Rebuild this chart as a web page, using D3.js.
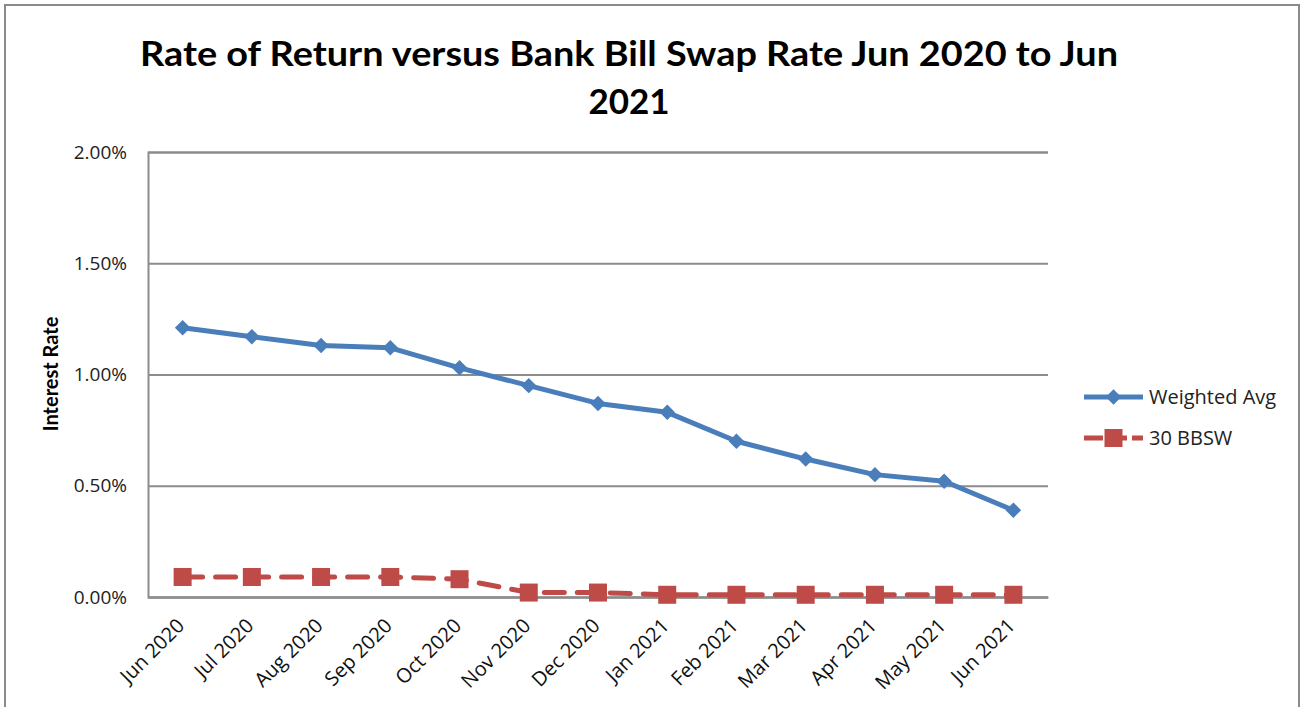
<!DOCTYPE html>
<html>
<head>
<meta charset="utf-8">
<script src="https://cdn.jsdelivr.net/npm/d3@7"></script>
<style>
  body { margin: 0; background: #fff; }
  svg { display: block; font-family: Lato, "Open Sans", sans-serif; }
</style>
</head>
<body>
<div id="chart"></div>
<script>
const months = ['Jun 2020', 'Jul 2020', 'Aug 2020', 'Sep 2020', 'Oct 2020', 'Nov 2020', 'Dec 2020',
    'Jan 2021', 'Feb 2021', 'Mar 2021', 'Apr 2021', 'May 2021', 'Jun 2021'];
const weightedAvg = [1.21, 1.17, 1.13, 1.12, 1.03, 0.95, 0.87, 0.83, 0.70, 0.62, 0.55, 0.52, 0.39];
const bbsw = [0.09, 0.09, 0.09, 0.09, 0.08, 0.02, 0.02, 0.01, 0.01, 0.01, 0.01, 0.01, 0.01];
const yTicks = [0, 0.5, 1.0, 1.5, 2.0];
const seriesNames = ['Weighted Avg', '30 BBSW'];

const W = 1303, H = 707;
const margin = { top: 152, left: 148, right: 255, bottom: 110 };
const width = W - margin.left - margin.right;
const height = H - margin.top - margin.bottom;

const blue = '#4a7ebb';
const red = '#be4b48';
const grid = '#8c8c8c';
const labelFont = '"Open Sans", sans-serif';

const svg = d3.select('#chart').append('svg').attr('width', W).attr('height', H);

// chart frame
svg.append('rect').attr('x', 5).attr('y', 5).attr('width', W - 9).attr('height', H)
    .attr('fill', 'none').attr('stroke', '#8a8a8a').attr('stroke-width', 2);

// title
const title = svg.append('text').attr('text-anchor', 'middle').attr('font-weight', 'bold')
    .attr('font-size', 35).attr('fill', '#000');
title.append('tspan').attr('x', 629).attr('y', 66)
    .attr('textLength', 978).attr('lengthAdjust', 'spacingAndGlyphs')
    .text('Rate of Return versus Bank Bill Swap Rate Jun 2020 to Jun');
title.append('tspan').attr('x', 629).attr('y', 114).text('2021');

const g = svg.append('g').attr('transform', `translate(${margin.left},${margin.top})`);

const x = d3.scaleBand().domain(months).range([0, width]);
const y = d3.scaleLinear().domain([0, 2]).range([height, 0]);

// gridlines + y axis
const yAxis = d3.axisLeft(y).tickValues(yTicks).tickSize(-width).tickPadding(21)
    .tickFormat(d => d.toFixed(2) + '%');
g.append('g').call(yAxis)
    .call(s => s.select('.domain').attr('stroke', grid).attr('stroke-width', 2))
    .call(s => s.selectAll('.tick line').attr('stroke', grid).attr('stroke-width', 2))
    .call(s => s.selectAll('.tick text').attr('font-size', 19).attr('fill', '#222')
        .attr('font-family', labelFont));

// x axis
const xAxis = d3.axisBottom(x).tickSize(0).tickPadding(0);
g.append('g').attr('transform', `translate(0,${height})`).call(xAxis)
    .call(s => s.select('.domain').attr('stroke', grid).attr('stroke-width', 2))
    .call(s => s.selectAll('.tick text')
        .attr('font-size', 20).attr('fill', '#111').attr('font-family', labelFont)
        .attr('text-anchor', 'end').attr('dy', 0)
        .attr('transform', 'translate(3,30) rotate(-45)'));

// y axis title
svg.append('text').attr('transform', 'translate(58,374) rotate(-90)')
    .attr('text-anchor', 'middle').attr('font-weight', 'bold').attr('font-size', 20)
    .text('Interest Rate');

const cx = d => x(d) + x.bandwidth() / 2;
const line = d3.line().x((d, i) => cx(months[i])).y(d => y(d));

// BBSW series
g.append('path').datum(bbsw).attr('d', line).attr('fill', 'none')
    .attr('stroke', red).attr('stroke-width', 5).attr('stroke-dasharray', '20 13')
    .attr('stroke-linecap', 'round');
g.selectAll('.sq').data(bbsw).join('rect').attr('class', 'sq')
    .attr('x', (d, i) => cx(months[i]) - 9).attr('y', d => y(d) - 9)
    .attr('width', 18).attr('height', 18).attr('fill', red);

// Weighted avg series
g.append('path').datum(weightedAvg).attr('d', line).attr('fill', 'none')
    .attr('stroke', blue).attr('stroke-width', 5).attr('stroke-linejoin', 'round');
const diamond = d3.symbol().type(d3.symbolSquare).size(120);
g.selectAll('.dm').data(weightedAvg).join('path').attr('class', 'dm')
    .attr('d', diamond)
    .attr('transform', (d, i) => `translate(${cx(months[i])},${y(d)}) rotate(45)`)
    .attr('fill', blue);

// legend
const legend = svg.append('g').attr('transform', 'translate(1084,397)');
seriesNames.forEach((name, i) => {
    const row = legend.append('g').attr('transform', `translate(0,${i * 41})`);
    const col = i === 0 ? blue : red;
    row.append('line').attr('x1', 0).attr('x2', 59).attr('stroke', col).attr('stroke-width', 5)
        .attr('stroke-dasharray', i === 0 ? null : '19 5');
    if (i === 0) {
        row.append('path').attr('d', diamond).attr('transform', 'translate(29.5,0) rotate(45)').attr('fill', col);
    } else {
        row.append('rect').attr('x', 20.5).attr('y', -9).attr('width', 18).attr('height', 18).attr('fill', col);
    }
    row.append('text').attr('x', 65).attr('dy', '0.35em').attr('font-size', 20)
        .attr('font-family', labelFont).attr('fill', '#222').text(name);
});
</script>
</body>
</html>
